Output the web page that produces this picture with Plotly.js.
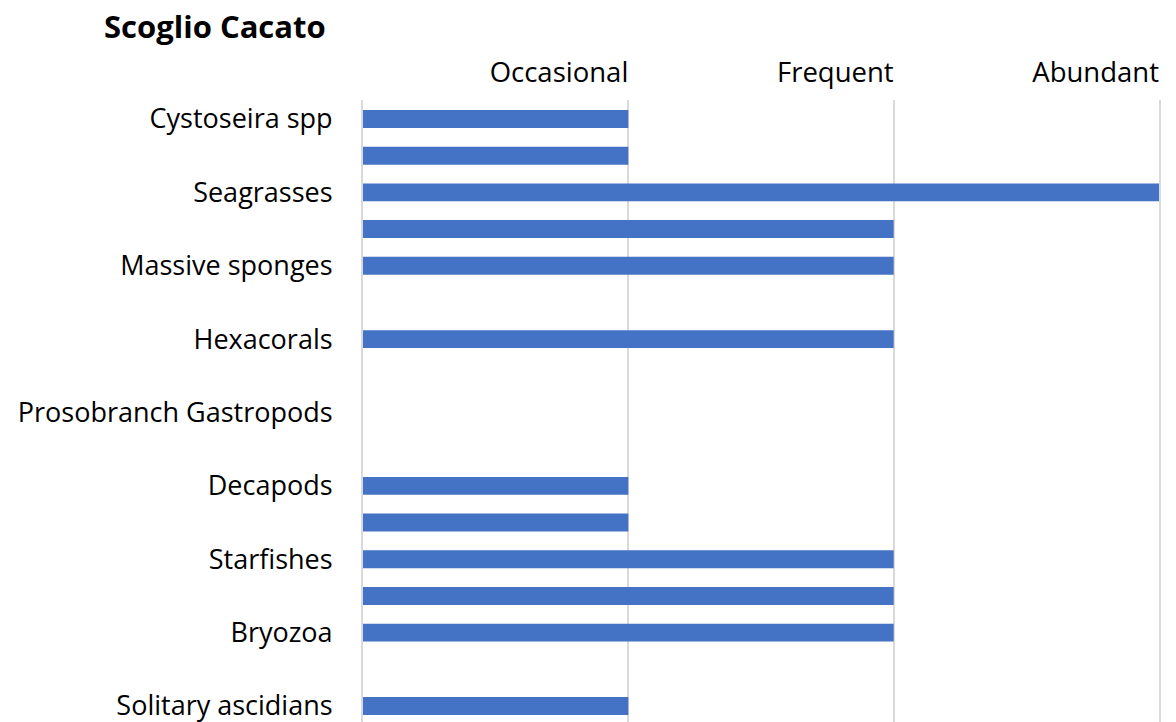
<!DOCTYPE html>
<html>
<head>
<meta charset="utf-8">
<script src="https://cdn.plot.ly/plotly-3.0.1.min.js"></script>
<style>html,body{margin:0;padding:0;background:#fff;}#chart{width:1176px;height:722px;}</style>
</head>
<body>
<div id="chart"></div>
<script>
const chartTitle = "Scoglio Cacato";
const categories = ["Cystoseira spp", "", "Seagrasses", "", "Massive sponges", "", "Hexacorals", "", "Prosobranch Gastropods", "", "Decapods", "", "Starfishes", "", "Bryozoa", "", "Solitary ascidians"];
const values = [1, 1, 3, 2, 2, 0, 2, 0, 0, 0, 1, 1, 2, 2, 2, 0, 1];
const levelValues = [0, 1, 2, 3];
const levelLabels = ["", "Occasional", "Frequent", "Abundant"];

const positions = categories.map((c, i) => i + 1);
const FONT = "'Open Sans', sans-serif";

const trace = {
  type: "bar",
  orientation: "h",
  x: values,
  y: positions,
  width: 0.49,
  marker: {color: "#4472C4", line: {width: 0}},
  hoverinfo: "x+y"
};

const layout = {
  width: 1176,
  height: 722,
  margin: {l: 363, r: 17, t: 100, b: 0, pad: 0},
  paper_bgcolor: "#ffffff",
  plot_bgcolor: "#ffffff",
  showlegend: false,
  title: {
    text: "<b>" + chartTitle + "</b>",
    font: {family: FONT, size: 31, color: "#000000"},
    x: 104 / 1176, xanchor: "left", xref: "container",
    y: 1 - 27 / 722, yanchor: "middle", yref: "container"
  },
  xaxis: {
    side: "top",
    range: [0, 3],
    tickvals: levelValues,
    ticktext: levelLabels,
    ticklabelposition: "outside left",
    ticklabelstandoff: 12,
    ticklabeloverflow: "allow",
    ticks: "",
    showgrid: true,
    gridcolor: "#d9d9d9",
    gridwidth: 2,
    zeroline: false,
    showline: false,
    tickfont: {family: FONT, size: 27.5, color: "#000000"},
    fixedrange: true
  },
  yaxis: {
    range: [17.436, 0.482],
    tickvals: positions,
    ticktext: categories,
    ticks: "",
    showgrid: false,
    zeroline: false,
    showline: true,
    mirror: true,
    linecolor: "#d9d9d9",
    linewidth: 2,
    ticklabelstandoff: 23,
    ticklabeloverflow: "allow",
    tickfont: {family: FONT, size: 27, color: "#000000"},
    fixedrange: true
  }
};

Plotly.newPlot("chart", [trace], layout, {displayModeBar: false, staticPlot: true});
</script>
</body>
</html>
